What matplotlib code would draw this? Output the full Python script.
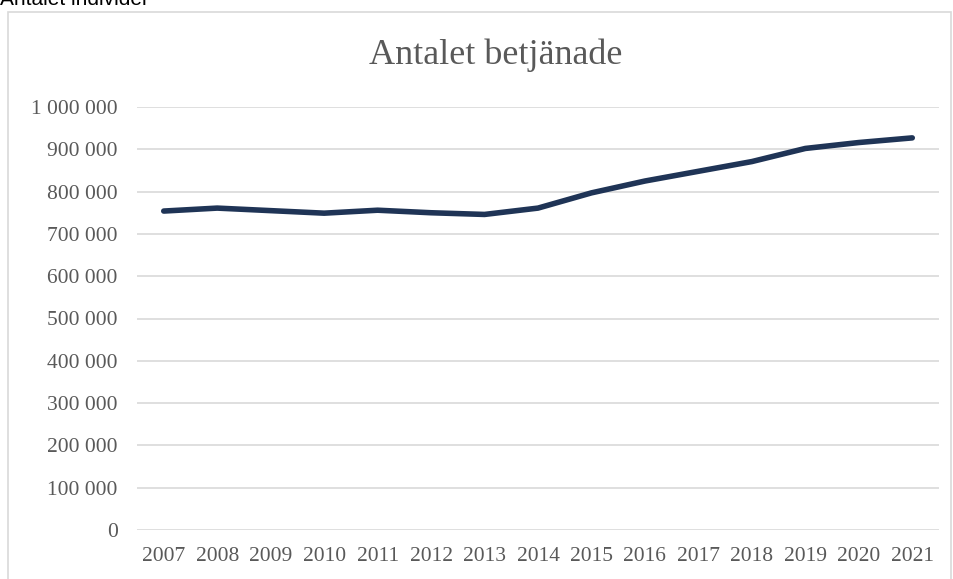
import matplotlib.pyplot as plt
from matplotlib.patches import Rectangle
from matplotlib.ticker import FuncFormatter

years = ['2007', '2008', '2009', '2010', '2011', '2012', '2013', '2014',
         '2015', '2016', '2017', '2018', '2019', '2020', '2021']
served = [754000, 761000, 755000, 749000, 756000, 750000, 746000, 761000,
          797000, 825000, 848000, 871000, 902000, 916000, 927000]

fig = plt.figure(figsize=(9.54, 5.79), dpi=100)

# outer chart frame (bottom edge is cut off in the original)
fig.patches.append(Rectangle((8 / 954, -0.05), (945 - 8) / 954 + 0.006, 1.05 - 12 / 579,
                             transform=fig.transFigure, fill=False,
                             edgecolor='#d9d9d9', linewidth=1.2))

fig.text(0.0, 1 - 5 / 579, 'Antalet individer', family='Liberation Sans',
         fontsize=15, color='black', va='baseline', ha='left')

ax = fig.add_axes([137 / 954, 1 - 530 / 579, (939 - 137) / 954, (530 - 107) / 579])
x = range(len(years))
ax.plot(x, served, color='#1f3456', linewidth=4.0, solid_capstyle='round', zorder=3)

ax.set_xlim(-0.5, len(years) - 0.5)
ax.set_ylim(0, 1000000)
ax.set_yticks(range(0, 1000001, 100000))
ax.yaxis.set_major_formatter(FuncFormatter(lambda v, p: f'{int(v):,}'.replace(',', ' ')))
ax.set_xticks(list(x))
ax.set_xticklabels(years)
ax.grid(axis='y', color='#d9d9d9', linewidth=1.2)
ax.set_axisbelow(True)
for s in ax.spines.values():
    s.set_visible(False)
ax.tick_params(length=0, labelsize=15.5, labelcolor='#595959')
ax.tick_params(axis='y', pad=14)
ax.tick_params(axis='x', pad=12)
for lbl in ax.get_xticklabels() + ax.get_yticklabels():
    lbl.set_family('Liberation Serif')

fig.text(496 / 954, 1 - 55 / 579, 'Antalet betjänade', family='Liberation Serif',
         fontsize=26, color='#595959', ha='center', va='center')

fig.savefig('out.png', dpi=100)
